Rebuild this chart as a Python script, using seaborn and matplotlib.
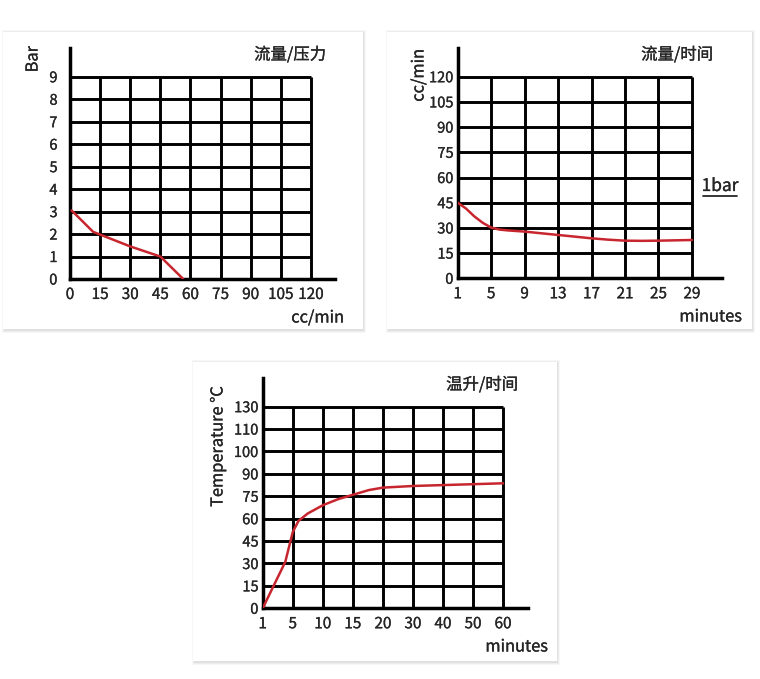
import matplotlib
matplotlib.use("Agg")
import matplotlib.pyplot as plt
import matplotlib.patheffects as pe
from matplotlib.patches import FancyBboxPatch
from matplotlib.lines import Line2D
import numpy as np
import seaborn as sns

# Panel 1: pressure vs flow
P_X_TICKS = [0, 15, 30, 45, 60, 75, 90, 105, 120]
P_Y_TICKS = [0, 1, 2, 3, 4, 5, 6, 7, 8, 9]
P_FLOW = [0.8, 11.5, 30, 45, 56.4]
P_BAR = [3.05, 2.1, 1.45, 1.0, 0.0]

# Panel 2: flow vs time at 1 bar
F_X_TICKS = [1, 5, 9, 13, 17, 21, 25, 29]
F_Y_TICKS = [0, 15, 30, 45, 60, 75, 90, 105, 120]
F_MIN = [1, 2, 3, 4, 5, 6, 7, 9, 11, 13, 15, 17, 19, 21, 23, 25, 27, 29]
F_FLOW = [45, 41.5, 36.8, 33, 30.2, 29.0, 28.5, 27.8, 26.8, 25.8, 24.8, 23.8,
          23.0, 22.4, 22.3, 22.4, 22.6, 22.8]

# Panel 3: temperature rise vs time
T_X_TICKS = [1, 5, 10, 15, 20, 30, 40, 50, 60]
T_Y_TICKS = [0, 15, 30, 45, 60, 75, 90, 100, 110, 130]
T_MIN = [1, 2.4, 4.0, 5.0, 5.95, 7.5, 10, 12.5, 15, 17.7, 20, 30, 40, 50, 60]
T_TEMP = [0, 14.5, 31, 51, 58.5, 63.5, 69, 73, 76, 79.2, 80.8, 81.9, 82.5, 83.1, 83.7]

W, H = 760, 679
RED = "#c8262f"
INK = "#262626"
GRID_LW = 2.1
SPINE_LW = 2.5
FONT = ["Noto Sans CJK SC", "DejaVu Sans"]
# slight stroke so the text reads a little heavier, like the original
HEAVY = [pe.withStroke(linewidth=0.2, foreground=INK)]

sns.set_theme(style="white")
plt.rcParams["font.family"] = FONT


def px(x, y):
    return x / W, 1 - y / H


def axes_rect(left, right, top, bottom):
    return [left / W, 1 - bottom / H, (right - left) / W, (bottom - top) / H]


def piecewise(ticks):
    """Equal spacing between uneven tick values, linear outside."""
    t = np.asarray(ticks, dtype=float)
    idx = np.arange(len(t), dtype=float)

    def fwd(v):
        v = np.asarray(v, dtype=float)
        out = np.interp(v, t, idx)
        out = np.where(v < t[0], (v - t[0]) / (t[1] - t[0]), out)
        out = np.where(v > t[-1], idx[-1] + (v - t[-1]) / (t[-1] - t[-2]), out)
        return out

    def inv(u):
        u = np.asarray(u, dtype=float)
        out = np.interp(u, idx, t)
        out = np.where(u < 0, t[0] + u * (t[1] - t[0]), out)
        out = np.where(u > idx[-1], t[-1] + (u - idx[-1]) * (t[-1] - t[-2]), out)
        return out

    return fwd, inv


def add_card(fig, left, top, right, bottom):
    for i, a in enumerate([0.05, 0.04, 0.03]):
        off = 1 + i
        fig.add_artist(FancyBboxPatch(
            ((left - off + 2) / W, 1 - (bottom + off + 1) / H),
            (right - left + 2 * off - 2) / W, (bottom - top + 2 * off) / H,
            boxstyle="square,pad=0", transform=fig.transFigure,
            facecolor="black", edgecolor="none", alpha=a, zorder=-2))
    fig.add_artist(FancyBboxPatch(
        (left / W, 1 - bottom / H), (right - left) / W, (bottom - top) / H,
        boxstyle="square,pad=0", transform=fig.transFigure,
        facecolor="white", edgecolor="none", zorder=-1))


def style_grid(ax, xticks, yticks, xlim, ylim, xpad, ypad):
    ax.set_zorder(2)
    ax.set_xlim(*xlim)
    ax.set_ylim(*ylim)
    ax.vlines(xticks, yticks[0], yticks[-1], color="black", lw=GRID_LW, zorder=1)
    ax.hlines(yticks, xticks[0], xticks[-1], color="black", lw=GRID_LW, zorder=1)
    ax.set_xticks(xticks)
    ax.set_yticks(yticks)
    ax.set_xticklabels([str(v) for v in xticks])
    ax.set_yticklabels([str(v) for v in yticks])
    ax.tick_params(axis="x", length=0, pad=xpad, labelsize=11, colors=INK)
    ax.tick_params(axis="y", length=0, pad=ypad, labelsize=10.5, colors=INK)
    for lab in ax.get_xticklabels() + ax.get_yticklabels():
        lab.set_path_effects(HEAVY)
    for side in ["top", "right"]:
        ax.spines[side].set_visible(False)
    for side in ["left", "bottom"]:
        ax.spines[side].set_color("black")
        ax.spines[side].set_linewidth(SPINE_LW)
    ax.patch.set_alpha(0)
    ax.set_xlabel("")
    ax.set_ylabel("")


fig = plt.figure(figsize=(W / 100, H / 100), dpi=100)
fig.patch.set_facecolor("white")

add_card(fig, 3, 32, 363, 329)
add_card(fig, 387, 32, 752, 329)
add_card(fig, 193, 362, 557, 661)

txt = dict(fontsize=11.8, color=INK, path_effects=HEAVY)

# Panel 1
ax1 = fig.add_axes(axes_rect(70, 335, 48, 279))
sns.lineplot(x=P_FLOW, y=P_BAR, ax=ax1, color=RED, lw=1.8, zorder=3)
style_grid(ax1, P_X_TICKS, P_Y_TICKS, (0, 132), (0, 10.28), 5, 9)
fig.text(*px(33, 46), "Bar", rotation=90, ha="center", va="top", **txt)
fig.text(*px(326, 55), "流量/压力", ha="right", va="center", **txt)
fig.text(*px(344, 318), "cc/min", ha="right", va="center", **txt)

# Panel 2
ax2 = fig.add_axes(axes_rect(457.7, 722, 48, 278.3))
sns.lineplot(x=F_MIN, y=F_FLOW, ax=ax2, color=RED, lw=1.8, zorder=3)
style_grid(ax2, F_X_TICKS, F_Y_TICKS, (1, 32.6), (0, 137.1), 5, 3)
fig.text(*px(419, 49), "cc/min", rotation=90, ha="center", va="top", **txt)
fig.text(*px(713, 55), "流量/时间", ha="right", va="center", **txt)
fig.text(*px(742, 317), "minutes", ha="right", va="center", **txt)
fig.text(*px(720, 186), "1bar", ha="center", va="center", fontsize=12.5,
         color=INK, path_effects=HEAVY)
fig.add_artist(Line2D([703 / W, 737 / W], [1 - 196 / H, 1 - 196 / H],
                      color=INK, lw=1.3, transform=fig.transFigure))

# Panel 3
ax3 = fig.add_axes(axes_rect(262.7, 528, 378, 608.3))
ax3.set_xscale("function", functions=piecewise(T_X_TICKS))
ax3.set_yscale("function", functions=piecewise(T_Y_TICKS))
sns.lineplot(x=T_MIN, y=T_TEMP, ax=ax3, color=RED, lw=1.8, zorder=3)
style_grid(ax3, T_X_TICKS, T_Y_TICKS, (1, 68.3), (0, 155.6), 5, 3)
fig.text(*px(218, 386), "Temperature °C", rotation=90, ha="center", va="top", **txt)
fig.text(*px(518, 385), "温升/时间", ha="right", va="center", **txt)
fig.text(*px(548, 647), "minutes", ha="right", va="center", **txt)

fig.savefig("out.png", dpi=100, facecolor="white")
